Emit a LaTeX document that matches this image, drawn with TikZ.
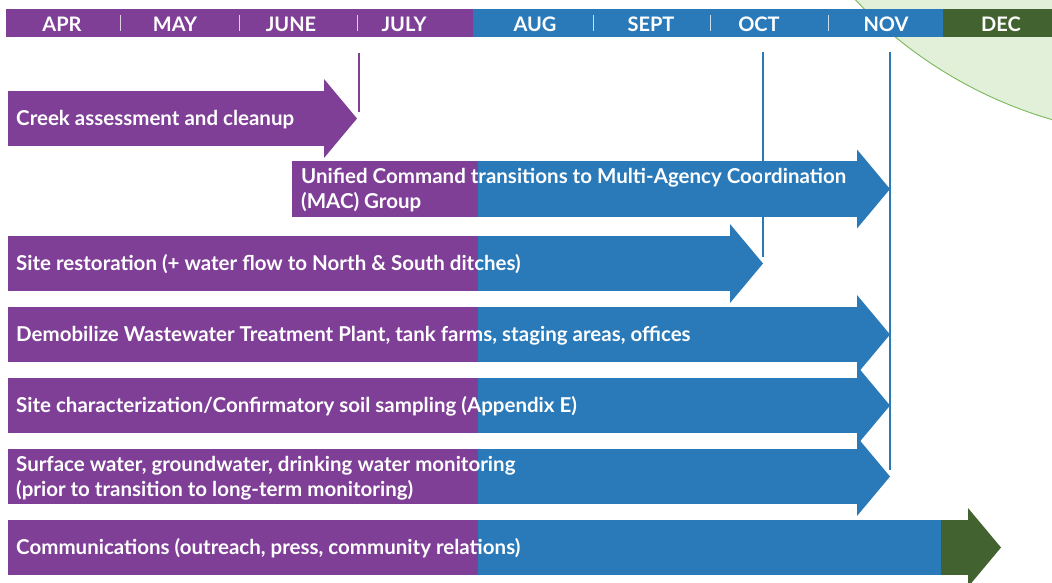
\documentclass[tikz,border=0pt]{standalone}
\usepackage{fontspec}
\setmainfont{Lato}
\definecolor{purp}{HTML}{7F3F97}
\definecolor{blu}{HTML}{2A7AB9}
\definecolor{dgreen}{HTML}{42632F}
\definecolor{lgreen}{HTML}{E2EFD9}
\definecolor{cgreen}{HTML}{7AB85A}
\newcommand\tlarrow[6]{%
  \pgfmathsetmacro\tlmid{(#1+#2)/2}%
  \pgfmathsetmacro\tlht{\tlmid-39.5}%
  \pgfmathsetmacro\tlhb{\tlmid+39.5}%
  \pgfmathsetmacro\tltip{#4+33}%
  \fill[purp] (#3,#1) rectangle (478,#2);
  \fill[#5] (477.6,#1) rectangle (#4+0.4,#2);
  \fill[#6] (#4,\tlht) -- (\tltip,\tlmid) -- (#4,\tlhb) -- cycle;}
\begin{document}
\begin{tikzpicture}[x=1pt,y=-1pt,
  lbl/.style={anchor=base west, text=white, font=\fontsize{20.5}{25}\selectfont\bfseries, inner sep=0pt, align=left},
  lbltwo/.style={lbl, anchor=west},
  mon/.style={text=white, font=\fontsize{20}{22}\selectfont\bfseries, inner sep=0pt},
  monsep/.style={draw=white, draw opacity=0.75, line width=1pt},
  vline/.style={line width=2pt}]
\useasboundingbox (0,0) rectangle (1052,582);
% background circle
\filldraw[fill=lgreen, draw=cgreen, line width=0.9pt] (1175,-304) circle (441pt);
% month bar
\fill[purp] (6,9) rectangle (473.5,37);
\fill[blu] (473,9) rectangle (943.5,37);
\fill[dgreen] (943,9) rectangle (1052,37);
\foreach \x in {120,239,357,593,710,828} \draw[monsep] (\x,15) -- (\x,31);
\node[mon] (apr) at (62,24.5) {APR};
\node[mon] (may) at (175,24.5) {MAY};
\node[mon] (jun) at (291,24.5) {JUNE};
\node[mon] (jul) at (404,24.5) {JULY};
\node[mon] (aug) at (535,24.5) {AUG};
\node[mon] (sep) at (651,24.5) {SEPT};
\node[mon] (oct) at (759,24.5) {OCT};
\node[mon] (nov) at (886,24.5) {NOV};
\node[mon] (dec) at (1001,24.5) {DEC};
% row 1: creek
\fill[purp] (8,91) rectangle (324.4,146);
\fill[purp] (324,79) -- (357,118.5) -- (324,158) -- cycle;
\node[lbl] (creek) at (16,125) {Creek assessment and cleanup};
% row 2: unified command
\tlarrow{161}{217}{292}{857}{blu}{blu}
\node[lbltwo] (ucmd) at (301,190.5) {Unified Command transitions to Multi-Agency Coordination\\(MAC) Group};
% row 3
\tlarrow{236}{291}{8}{730}{blu}{blu}
\node[lbl] (rest) at (16,270) {Site restoration (+ water flow to North \& South ditches)};
% row 4
\tlarrow{307}{362}{8}{857}{blu}{blu}
\node[lbl] (demob) at (16,341) {Demobilize Wastewater Treatment Plant, tank farms, staging areas, offices};
% row 5
\tlarrow{378}{433}{8}{857}{blu}{blu}
\node[lbl] (char) at (16,412) {Site characterization/Confirmatory soil sampling (Appendix E)};
% row 6
\tlarrow{449}{504}{8}{857}{blu}{blu}
\node[lbltwo] (surf) at (16,478) {Surface water, groundwater, drinking water monitoring\\(prior to transition to long-term monitoring)};
% row 7
\tlarrow{520}{575}{8}{968}{blu}{dgreen}
\fill[dgreen] (941,520) rectangle (968.4,575);
\node[lbl] (comm) at (16,554) {Communications (outreach, press, community relations)};
% milestone lines
\coordinate (m1a) at (359,53); \coordinate (m1b) at (359,112);
\coordinate (m2a) at (763,52); \coordinate (m2b) at (763,257);
\coordinate (m3a) at (890,52); \coordinate (m3b) at (890,470);
\draw[vline, draw=purp] (m1a) -- (m1b);
\draw[vline, draw=blu] (m2a) -- (m2b);
\draw[vline, draw=blu] (m3a) -- (m3b);
\end{tikzpicture}
\end{document}
